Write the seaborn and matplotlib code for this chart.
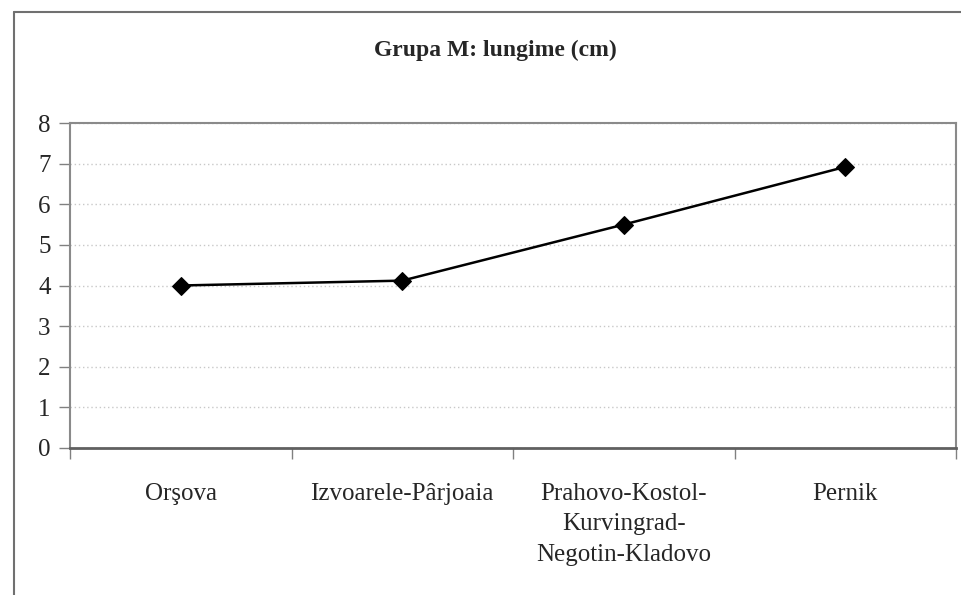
import matplotlib
matplotlib.use("Agg")
import matplotlib.pyplot as plt
from matplotlib.lines import Line2D
from matplotlib.ticker import FixedLocator, NullFormatter, FixedFormatter
import seaborn as sns
import pandas as pd

# ---------------- data ----------------
locations = ["Orşova", "Izvoarele-Pârjoaia",
             "Prahovo-Kostol-\nKurvingrad-\nNegotin-Kladovo", "Pernik"]
lungime = [4.0, 4.12, 5.5, 6.92]
title = "Grupa M: lungime (cm)"

df = pd.DataFrame({"pos": range(len(locations)), "lungime": lungime})

# ---------------- style ----------------
sns.set_style("white")
plt.rcParams["font.family"] = ["Liberation Serif", "DejaVu Serif"]

W, H = 961, 595
fig = plt.figure(figsize=(W / 100, H / 100), dpi=100)
ax = fig.add_axes([70 / W, 1 - 448 / H, (956 - 70) / W, (448 - 123) / H])

sns.lineplot(data=df, x="pos", y="lungime", ax=ax, color="black",
             marker="D", markersize=9, linewidth=1.8, markeredgecolor="black")

ax.set_xlim(-0.5, len(locations) - 0.5)
ax.set_ylim(0, 8)
ax.set_yticks(range(0, 9))
ax.set_xlabel("")
ax.set_ylabel("")

# ticks between categories, labels centred on categories
ax.xaxis.set_major_locator(FixedLocator([i - 0.5 for i in range(len(locations) + 1)]))
ax.xaxis.set_major_formatter(NullFormatter())
ax.xaxis.set_minor_locator(FixedLocator(list(range(len(locations)))))
ax.xaxis.set_minor_formatter(FixedFormatter(locations))
ax.tick_params(axis="x", which="major", bottom=True, length=8, width=1,
               color="#808080", direction="out")
ax.tick_params(axis="x", which="minor", bottom=True, length=0, pad=25, labelsize=18)
ax.tick_params(axis="y", left=True, length=8, width=1, color="#808080",
               direction="out", pad=6, labelsize=18)
for lab in ax.xaxis.get_minorticklabels():
    lab.set_horizontalalignment("center")
    lab.set_linespacing(1.5)

ax.yaxis.grid(True, linestyle=(0, (1, 2)), color="#c8c8c8", linewidth=1)
ax.xaxis.grid(False)

for side in ["left", "top", "right"]:
    ax.spines[side].set_color("#8a8a8a")
    ax.spines[side].set_linewidth(1.5)
ax.spines["bottom"].set_color("#606060")
ax.spines["bottom"].set_linewidth(2)

fig.text(495 / W, 1 - 50 / H, title, ha="center", va="center",
         fontsize=17, fontweight="bold")

# outer chart frame (left and top edges visible)
fig.add_artist(Line2D([14 / W, 14 / W], [0, 1 - 12 / H], transform=fig.transFigure,
                      color="#707070", linewidth=1.5))
fig.add_artist(Line2D([14 / W, 1], [1 - 12 / H, 1 - 12 / H], transform=fig.transFigure,
                      color="#707070", linewidth=1.5))

fig.savefig("out.png", dpi=100)
